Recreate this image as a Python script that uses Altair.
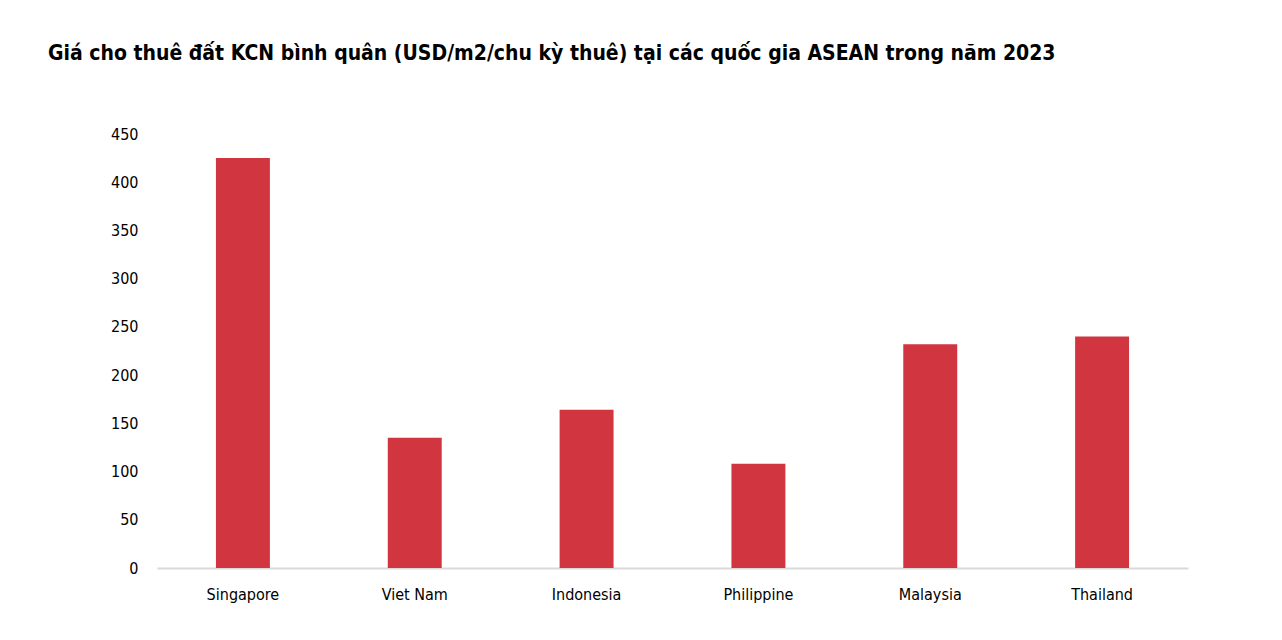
import altair as alt
import pandas as pd

countries = ["Singapore", "Viet Nam", "Indonesia", "Philippine", "Malaysia", "Thailand"]
prices = [425, 135, 164, 108, 232, 240]

df = pd.DataFrame({"country": countries, "price": prices})

FONT = "DejaVu Sans Condensed, Roboto, sans-serif"

chart = alt.Chart(df).mark_bar(color="#d13540").encode(
    x=alt.X("country:N", sort=countries, title=None,
            scale=alt.Scale(paddingInner=0.686, paddingOuter=0.343),
            axis=alt.Axis(labelAngle=0, labelFontSize=16, labelFont=FONT, labelColor="#000000",
                          ticks=False, domainColor="#d9d9d9", domainWidth=2, labelPadding=18)),
    y=alt.Y("price:Q", title=None,
            scale=alt.Scale(domain=[0, 450]),
            axis=alt.Axis(values=[0, 50, 100, 150, 200, 250, 300, 350, 400, 450],
                          labelFontSize=16, labelFont=FONT, labelColor="#000000",
                          ticks=False, domain=False, grid=False, labelPadding=19)),
).properties(
    width=1031,
    height=434,
    padding={"left": 40, "top": 35, "right": 10, "bottom": 10},
    title=alt.TitleParams(
        "Giá cho thuê đất KCN bình quân (USD/m2/chu kỳ thuê) tại các quốc gia ASEAN trong năm 2023",
        anchor="start", frame="group", dx=-109, offset=62,
        font=FONT, fontSize=21, fontWeight="bold", color="#000000",
    ),
).configure_view(stroke=None)

chart.save("out.html", embed_options={"renderer": "svg", "actions": False})
